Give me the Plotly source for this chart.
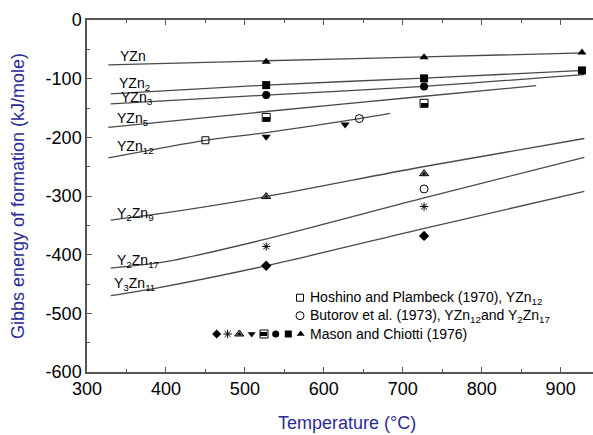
import plotly.graph_objects as go

# ---------------- data ----------------
# calculated Gibbs-energy curves (temperature in °C, G in kJ/mole)
yzn_T = [327, 527, 727, 930]
yzn_G = [-76.5, -69.5, -63, -56]
yzn2_T = [330, 527, 727, 930]
yzn2_G = [-126, -111, -99, -86]
yzn3_T = [330, 527, 727, 930]
yzn3_G = [-143, -128, -113, -93]
yzn5_T = [327, 527, 727, 869]
yzn5_G = [-183, -156, -130, -112]
yzn12_T = [327, 450, 527, 645, 684]
yzn12_G = [-235, -205, -192, -168, -159]
y2zn9_T = [330, 388, 527, 722, 930]
y2zn9_G = [-341, -331, -301, -251, -202]
y2zn17_T = [330, 400, 525, 722, 930]
y2zn17_G = [-423, -412, -374, -305, -234]
y3zn11_T = [330, 388, 527, 722, 930]
y3zn11_G = [-470, -457, -419, -357, -292]

# experimental points, Mason and Chiotti (1976)
mc_yzn_T, mc_yzn_G = [527, 727, 927], [-71, -63.5, -55.5]
mc_yzn2_T, mc_yzn2_G = [527, 727, 927], [-111, -99.5, -86]
mc_yzn3_T, mc_yzn3_G = [527, 727], [-128, -113.5]
mc_yzn5_T, mc_yzn5_G = [527, 727], [-166, -142]
mc_yzn12_T, mc_yzn12_G = [527, 627], [-199, -178]
mc_y2zn9_T, mc_y2zn9_G = [527, 727], [-301, -262]
mc_y2zn17_T, mc_y2zn17_G = [527, 727], [-386, -318]
mc_y3zn11_T, mc_y3zn11_G = [527, 727], [-419, -368]
# Hoshino and Plambeck (1970)
hp_T, hp_G = [450], [-205]
# Butorov et al. (1973)
bu_T, bu_G = [645, 727], [-168, -288]

x_ticks = [300, 400, 500, 600, 700, 800, 900]
y_ticks = [-600, -500, -400, -300, -200, -100, 0]
y_ticktext = ["-600", "-500", "-400", "-300", "-200", "-100", "0"]

curve_labels = ["YZn", "YZn<sub>2</sub>", "YZn<sub>3</sub>", "YZn<sub>5</sub>",
                "YZn<sub>12</sub>", "Y<sub>2</sub>Zn<sub>9</sub>",
                "Y<sub>2</sub>Zn<sub>17</sub>", "Y<sub>3</sub>Zn<sub>11</sub>"]
label_T = [339, 338, 340, 335, 336, 335, 335, 332]
label_G = [-62, -109, -133, -169, -217, -331, -410, -450]

FONT = "Liberation Sans, Arial, Helvetica, sans-serif"
LINE_COL = "#4a4a4a"
AX_COL = "#555555"
BLUE = "#2b2b98"

fig = go.Figure()

curves = [(yzn_T, yzn_G), (yzn2_T, yzn2_G), (yzn3_T, yzn3_G), (yzn5_T, yzn5_G),
          (yzn12_T, yzn12_G), (y2zn9_T, y2zn9_G), (y2zn17_T, y2zn17_G),
          (y3zn11_T, y3zn11_G)]
for T, G in curves:
    fig.add_trace(go.Scatter(x=T, y=G, mode="lines",
                             line=dict(color=LINE_COL, width=1.3, shape="spline", smoothing=0.8),
                             hoverinfo="skip", showlegend=False))


def mk(T, G, symbol, size=8, lw=1, color="black", xa="x", ya="y"):
    fig.add_trace(go.Scatter(x=T, y=G, mode="markers", showlegend=False,
                             xaxis=xa, yaxis=ya,
                             marker=dict(symbol=symbol, size=size, color=color,
                                         line=dict(color="black", width=lw))))


def half_square(T, G, xa="x", ya="y", xref="x", yref="y"):
    # open square with its lower half filled black
    mk(T, G, "square-open", 8, 1, xa=xa, ya=ya)
    for t, g in zip(T, G):
        fig.add_annotation(x=t, y=g, xref=xref, yref=yref, text=" ", showarrow=False,
                           width=7, height=3.5, bgcolor="black", borderpad=0,
                           borderwidth=0, yshift=-2, font=dict(size=2))


def half_triangle(T, G, xa="x", ya="y"):
    mk(T, G, "triangle-up", 8, 1, color="#8a8a8a", xa=xa, ya=ya)
    mk(T, G, "triangle-up", 4, 0, color="black", xa=xa, ya=ya)


mk(mc_yzn_T, mc_yzn_G, "triangle-up", 8, 0)
mk(mc_yzn2_T, mc_yzn2_G, "square", 8, 0)
mk(mc_yzn3_T, mc_yzn3_G, "circle", 8, 0)
half_square(mc_yzn5_T, mc_yzn5_G)
mk(mc_yzn12_T, mc_yzn12_G, "triangle-down", 8, 0)
half_triangle(mc_y2zn9_T, mc_y2zn9_G)
mk(mc_y2zn17_T, mc_y2zn17_G, "asterisk-open", 7, 1)
mk(mc_y3zn11_T, mc_y3zn11_G, "diamond", 8, 0)
mk(hp_T, hp_G, "square-open", 7, 1)
mk(bu_T, bu_G, "circle-open", 8, 1)

# curve labels
for lab, T, G in zip(curve_labels, label_T, label_G):
    fig.add_annotation(x=T, y=G, xref="x", yref="y", text=lab, showarrow=False,
                       xanchor="left", yanchor="middle",
                       font=dict(family=FONT, size=14, color="black"))

# key (legend) drawn on an overlay axis spanning the plot area
key_rows_y = [0.211, 0.160, 0.108]
key_text = ["Hoshino and Plambeck (1970), YZn<sub>12</sub>",
            "Butorov et al. (1973), YZn<sub>12</sub>and Y<sub>2</sub>Zn<sub>17</sub>",
            "Mason and Chiotti (1976)"]
key_sym_x = 0.421
key_text_x = 0.437
row3_x = [0.2563, 0.2779, 0.3010, 0.3255, 0.3498, 0.3729, 0.3978, 0.4223]
row3_sym = ["diamond", "asterisk-open", "HALF_TRI", "triangle-down", "HALF_SQ",
            "circle", "square", "triangle-up"]

for ytxt, t in zip(key_rows_y, key_text):
    fig.add_annotation(x=key_text_x, y=ytxt, xref="paper", yref="paper", text=t,
                       showarrow=False, xanchor="left", yanchor="middle",
                       font=dict(family=FONT, size=14, color="black"))

mk([key_sym_x], [key_rows_y[0]], "square-open", 7, 1, xa="x2", ya="y2")
mk([key_sym_x], [key_rows_y[1]], "circle-open", 8, 1, xa="x2", ya="y2")
for xs, s in zip(row3_x, row3_sym):
    if s == "HALF_TRI":
        half_triangle([xs], [key_rows_y[2]], xa="x2", ya="y2")
    elif s == "HALF_SQ":
        half_square([xs], [key_rows_y[2]], xa="x2", ya="y2", xref="paper", yref="paper")
    else:
        mk([xs], [key_rows_y[2]], s, 7, 1 if "open" in s else 0, xa="x2", ya="y2")

# axis titles
fig.add_annotation(x=-0.135, y=0.499, xref="paper", yref="paper",
                   text="Gibbs energy of formation (kJ/mole)", textangle=-90,
                   showarrow=False, xanchor="center", yanchor="middle",
                   font=dict(family=FONT, size=18, color=BLUE))
fig.add_annotation(x=0.513, y=-0.145, xref="paper", yref="paper",
                   text="Temperature (\u00b0C)", showarrow=False,
                   xanchor="center", yanchor="middle",
                   font=dict(family=FONT, size=18, color=BLUE))

fig.update_layout(
    width=593, height=435,
    margin=dict(l=87, r=0, t=20, b=63),
    paper_bgcolor="white", plot_bgcolor="white",
    showlegend=False,
    xaxis=dict(range=[300, 941], tickvals=x_ticks, ticks="inside", ticklen=5,
               tickcolor=AX_COL, tickwidth=1.2, showline=True, linecolor=AX_COL,
               linewidth=1.5, mirror="ticks", showgrid=False, zeroline=False,
               tickfont=dict(family=FONT, size=18, color="black"),
               minor=dict(tick0=300, dtick=50, ticks="inside", ticklen=3,
                          tickcolor=AX_COL, tickwidth=1)),
    yaxis=dict(range=[-600, 0], tickvals=y_ticks, ticktext=y_ticktext,
               ticks="inside", ticklen=5, tickcolor=AX_COL, tickwidth=1.2,
               showline=True, linecolor=AX_COL, linewidth=1.5, mirror=False,
               showgrid=False, zeroline=False,
               tickfont=dict(family=FONT, size=18, color="black"),
               minor=dict(tick0=0, dtick=50, ticks="inside", ticklen=3,
                          tickcolor=AX_COL, tickwidth=1)),
    xaxis2=dict(range=[0, 1], overlaying="x", visible=False, fixedrange=True),
    yaxis2=dict(range=[0, 1], overlaying="y", visible=False, fixedrange=True,
                anchor="x2"),
)

fig.write_html("out.html", config={"displayModeBar": False},
               post_script="document.body.style.margin='0';document.body.style.overflow='hidden';")
